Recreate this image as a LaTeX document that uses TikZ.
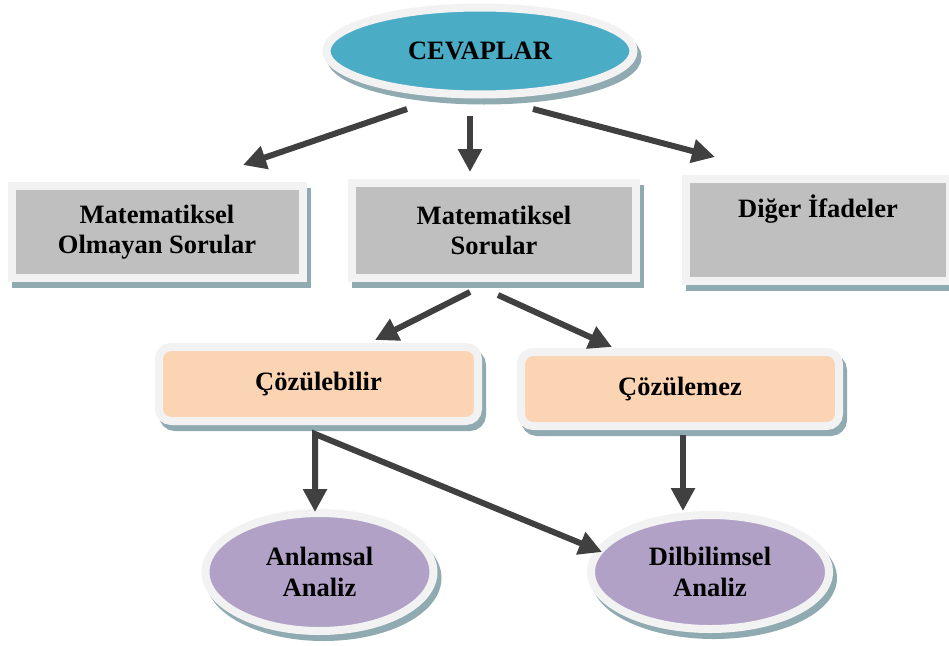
\documentclass[tikz,border=0pt]{standalone}
\usepackage{fontspec}
\setmainfont{Liberation Serif}
\usetikzlibrary{arrows.meta,shapes.geometric}
\definecolor{shadowc}{RGB}{143,170,177}
\definecolor{rimc}{RGB}{242,242,242}
\definecolor{bluec}{RGB}{75,172,198}
\definecolor{grayc}{RGB}{191,191,191}
\definecolor{peachc}{RGB}{251,212,180}
\definecolor{purplec}{RGB}{178,161,199}
\definecolor{arrowc}{RGB}{64,64,64}
\begin{document}
\begin{tikzpicture}[x=1pt,y=-1pt,
  shapebase/.style={draw=rimc, line width=8pt, inner sep=0pt, align=center,
    font=\bfseries\fontsize{26.5}{30.5}\selectfont,
    preaction={draw=shadowc, fill=shadowc, line width=8pt,
      transform canvas={shift={(4pt,-6pt)}}}},
  ell/.style={shapebase, ellipse},
  sqbox/.style={shapebase, rectangle},
  rbox/.style={shapebase, rectangle, rounded corners=12pt},
  arr/.style={draw=arrowc, line width=6pt, line join=miter,
    -{Triangle[width=23pt,length=23pt]}},
  arr2/.style={draw=arrowc, line width=6pt, line join=miter,
    {Triangle[width=23pt,length=23pt]}-{Triangle[width=23pt,length=23pt]}}
]
\useasboundingbox (0,0) rectangle (949,645);
\clip (0,0) rectangle (949,645);

% nodes
\node[ell, fill=bluec, minimum width=307pt, minimum height=87pt] (cev) at (480,51) {CEVAPLAR};
\node[sqbox, fill=grayc, minimum width=291pt, minimum height=92pt] (b1) at (157,232) {Matematiksel\\Olmayan Sorular};
\node[sqbox, fill=grayc, minimum width=284pt, minimum height=95pt] (b2) at (494,230.5) {Matematiksel\\Sorular};
\node[sqbox, fill=grayc, minimum width=264pt, minimum height=102pt, text height=20pt, text depth=46pt] (b3) at (818,230) {Diğer İfadeler};
\node[rbox, fill=peachc, minimum width=319pt, minimum height=74pt] (c1) at (318.5,384) {Çözülebilir};
\node[rbox, fill=peachc, minimum width=318pt, minimum height=74pt] (c2) at (680,389) {Çözülemez};
\node[ell, fill=purplec, minimum width=228pt, minimum height=118pt] (an) at (319.5,572) {Anlamsal\\Analiz};
\node[ell, fill=purplec, minimum width=238pt, minimum height=114pt] (di) at (710,572) {Dilbilimsel\\Analiz};

% connector ends
\coordinate (s1) at (407,109);  \coordinate (e1) at (243,165);
\coordinate (s2) at (470,116);  \coordinate (e2) at (470,172);
\coordinate (s3) at (533,109);  \coordinate (e3) at (715,157);
\coordinate (s4) at (470,292);  \coordinate (e4) at (375,340);
\coordinate (s5) at (498,295);  \coordinate (e5) at (612,347);
\coordinate (s6) at (315,434);  \coordinate (e6) at (315,512);
\coordinate (e7) at (602,552);
\coordinate (s8) at (683,435);  \coordinate (e8) at (683,511);

% connectors
\draw[arr] (s1) -- (e1);
\draw[arr] (s2) -- (e2);
\draw[arr] (s3) -- (e3);
\draw[arr] (s4) -- (e4);
\draw[arr] (s5) -- (e5);
\draw[arr2] (e6) -- (s6) -- (e7);
\draw[arr] (s8) -- (e8);
\end{tikzpicture}
\end{document}
